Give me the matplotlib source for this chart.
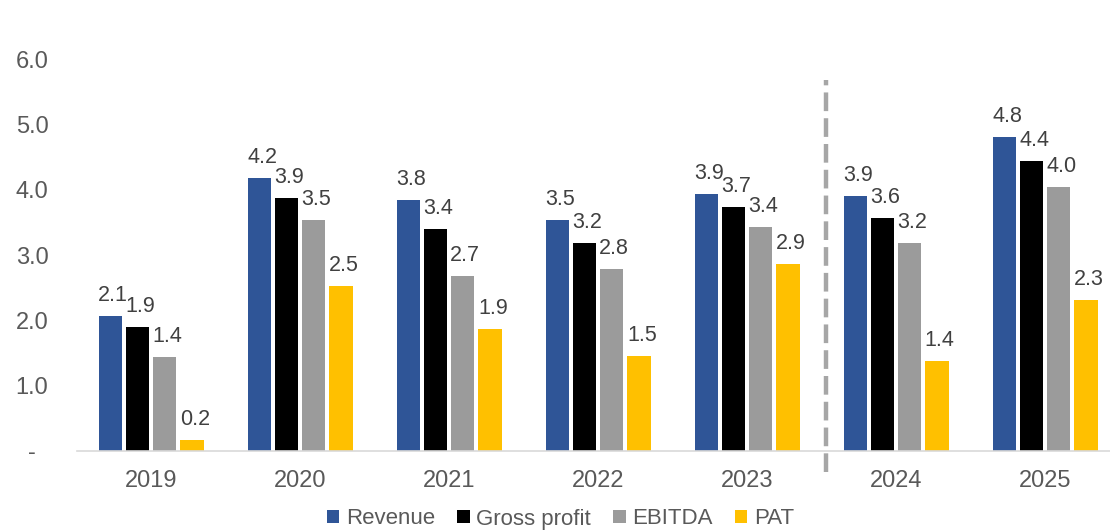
import matplotlib
matplotlib.use("Agg")
import matplotlib.pyplot as plt
import numpy as np

plt.rcParams['font.family'] = ['Liberation Sans', 'DejaVu Sans']

# データ
years = ["2019", "2020", "2021", "2022", "2023", "2024", "2025"]
revenue = [2.07, 4.18, 3.84, 3.54, 3.94, 3.90, 4.81]
gross_profit = [1.90, 3.87, 3.40, 3.19, 3.74, 3.57, 4.44]
ebitda = [1.44, 3.54, 2.68, 2.79, 3.43, 3.19, 4.04]
pat = [0.17, 2.53, 1.87, 1.46, 2.86, 1.38, 2.31]
series_names = ["Revenue", "Gross profit", "EBITDA", "PAT"]
yticks = [0, 1, 2, 3, 4, 5, 6]
ytick_labels = ["-", "1.0", "2.0", "3.0", "4.0", "5.0", "6.0"]

colors = ["#2F5597", "#000000", "#9B9B9B", "#FFC000"]
offsets = [-0.272, -0.09, 0.09, 0.275]
bar_w = 0.155

fig = plt.figure(figsize=(11.1, 5.3), dpi=100)
ax = fig.add_axes([76.5/1110, 1-451/530, 1-76.5/1110, (451-59)/530])

x = np.arange(len(years))
for vals, name, c, off in zip([revenue, gross_profit, ebitda, pat],
                              series_names, colors, offsets):
    bars = ax.bar(x + off, vals, bar_w, color=c, label=name)
    for b, v in zip(bars, vals):
        ax.annotate(f"{v:.1f}", (b.get_x() + b.get_width()/2, v),
                    xytext=(2, 7), textcoords="offset points",
                    ha="center", va="bottom", fontsize=15.5, color="#404040")

# 実績と予測の区切り線
ax.plot([4.53, 4.53], [-0.32, 5.68], color="#A6A6A6", lw=3.2,
        dashes=(4.2, 1.6), clip_on=False)

ax.set_xlim(-0.5, 6 + (1110-1045)/149)
ax.set_ylim(0, 6.0)
ax.set_xticks(x)
ax.set_xticklabels(years)
ax.set_yticks(yticks)
ax.set_yticklabels(ytick_labels)
for lab in ax.get_yticklabels():
    lab.set_horizontalalignment("center")
ax.tick_params(axis="y", length=0, pad=32, labelsize=17, labelcolor="#595959")
ax.tick_params(axis="x", length=0, pad=14, labelsize=17, labelcolor="#595959")

for s in ["top", "right", "left"]:
    ax.spines[s].set_visible(False)
ax.spines["bottom"].set_color("#D9D9D9")
ax.spines["bottom"].set_linewidth(1.2)

fig.legend(loc="center", bbox_to_anchor=(0.505, 1-519/530), ncol=4,
           frameon=False, fontsize=16, handlelength=0.55, handleheight=0.55,
           handletextpad=0.3, columnspacing=1.0, labelcolor="#595959")

fig.savefig("out.png", dpi=100)
